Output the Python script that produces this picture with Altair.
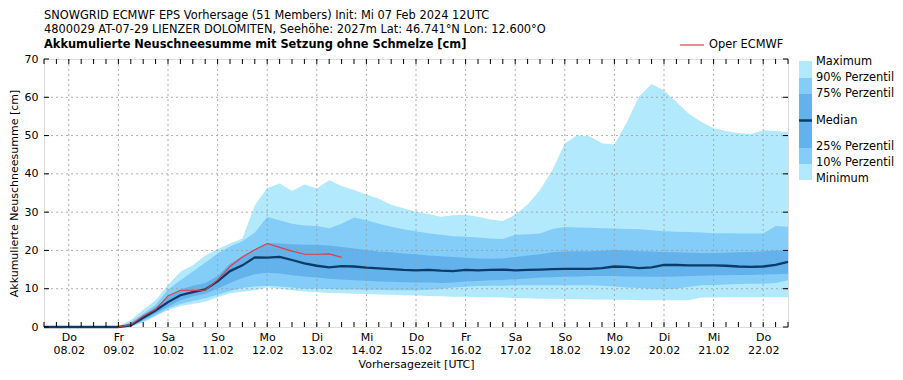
import altair as alt
import pandas as pd

# ---------------- data ----------------
hours = list(range(0, 361, 6))

ens_max = [0, 0, 0, 0, 0, 0,
           0.2, 1.8, 4.5, 7.0, 11.0, 14.4, 16.1, 18.7, 20.4, 21.8, 23.1, 31.8, 36.3, 37.5,
           35.5, 37.2, 36.2, 38.3, 36.8, 35.8, 34.6, 33.5, 31.9, 31.0, 30.1, 29.5, 28.8, 29.2,
           29.3, 28.8, 28.1, 27.7, 29.3, 32.0, 35.8, 41.0, 47.9, 50.1, 49.8, 48.0, 47.7, 53.5,
           60.3, 63.5, 61.8, 58.8, 55.7, 53.6, 51.9, 51.2, 50.6, 50.4, 51.4, 51.2, 50.9]
ens_p90 = [0, 0, 0, 0, 0, 0,
           0.1, 1.3, 3.5, 5.8, 9.8, 12.2, 14.5, 16.8, 19.2, 21.0, 22.4, 24.7, 28.7, 27.9,
           27.0, 26.5, 26.4, 25.8, 27.0, 28.6, 27.9, 27.0, 26.2, 25.5, 25.0, 24.5, 24.1, 23.7,
           23.6, 23.4, 23.1, 23.0, 24.1, 24.2, 24.4, 25.6, 26.1, 26.0, 25.9, 25.8, 25.7, 25.6,
           25.5, 25.3, 25.0, 24.9, 24.8, 24.7, 24.5, 24.5, 24.4, 24.4, 24.4, 26.4, 26.2]
ens_p75 = [0, 0, 0, 0, 0, 0,
           0.1, 1.0, 3.0, 5.2, 7.8, 9.8, 10.8, 11.5, 13.3, 16.5, 18.5, 20.3, 22.0, 21.8,
           21.6, 21.5, 21.5, 21.3, 20.9, 20.5, 20.1, 19.7, 19.5, 19.2, 19.0, 18.7, 18.5, 18.3,
           18.1, 17.9, 17.8, 17.9, 18.3, 18.7, 19.0, 19.5, 19.7, 19.8, 19.8, 19.9, 20.1, 20.0,
           19.8, 19.7, 19.6, 19.5, 19.4, 19.3, 19.3, 19.4, 19.5, 19.6, 19.8, 20.0, 20.0]
ens_median = [0, 0, 0, 0, 0, 0,
              0.0, 0.4, 2.4, 4.3, 6.5, 8.3, 9.1, 9.8, 11.9, 14.6, 16.1, 18.2, 18.1, 18.3,
              17.5, 16.6, 16.0, 15.6, 15.9, 15.8, 15.5, 15.3, 15.1, 14.9, 14.8, 14.9, 14.7, 14.6,
              14.9, 14.8, 14.9, 15.0, 14.8, 14.9, 15.0, 15.1, 15.2, 15.2, 15.2, 15.4, 15.8, 15.7,
              15.4, 15.6, 16.2, 16.2, 16.1, 16.1, 16.1, 16.0, 15.8, 15.7, 15.8, 16.2, 17.0]
ens_p25 = [0, 0, 0, 0, 0, 0,
           0.0, 0.2, 1.8, 3.5, 5.3, 7.0, 8.0, 8.7, 10.0, 11.5, 12.8, 13.8, 14.2, 14.0,
           13.5, 13.2, 12.9, 12.6, 12.4, 12.2, 12.1, 11.9, 11.8, 11.7, 11.6, 11.6, 11.5, 11.6,
           11.9, 12.0, 12.2, 12.3, 12.5, 12.7, 12.9, 13.0, 13.1, 13.2, 13.3, 13.3, 13.3, 13.2,
           13.2, 13.1, 13.1, 13.2, 13.3, 13.4, 13.5, 13.5, 13.6, 13.6, 13.7, 13.8, 13.9]
ens_p10 = [0, 0, 0, 0, 0, 0,
           0.0, 0.1, 1.5, 3.0, 4.8, 6.0, 6.8, 7.5, 8.4, 9.4, 10.2, 10.6, 10.8, 10.6,
           10.3, 10.0, 10.0, 9.9, 9.8, 9.8, 9.7, 9.7, 9.6, 9.6, 9.6, 9.7, 9.9, 10.3,
           10.5, 10.7, 10.8, 10.8, 10.9, 10.9, 10.9, 10.9, 10.9, 10.9, 10.9, 10.8, 10.6, 10.3,
           10.2, 10.0, 9.9, 10.0, 10.5, 10.9, 11.0, 11.1, 11.2, 11.3, 11.3, 11.5, 12.2]
ens_min = [0, 0, 0, 0, 0, 0,
           0.0, 0.0, 1.2, 2.8, 4.4, 5.5, 6.0, 6.6, 7.8, 8.8, 9.2, 9.6, 10.3, 10.0,
           9.6, 9.3, 9.1, 8.9, 8.8, 8.7, 8.6, 8.5, 8.4, 8.3, 8.2, 8.1, 8.0, 7.9,
           7.9, 7.8, 7.8, 7.7, 7.6, 7.5, 7.4, 7.4, 7.3, 7.3, 7.2, 7.2, 7.1, 7.1,
           7.0, 7.0, 7.0, 7.0, 7.0, 7.7, 7.7, 7.8, 7.8, 7.8, 7.8, 7.8, 7.8]

oper_hours = [36, 42, 48, 54, 60, 66, 72, 78, 84, 90, 96, 102, 108, 114, 120, 126, 132, 138, 144]
oper_vals = [0.0, 0.6, 2.9, 4.6, 8.1, 9.6, 9.6, 9.6, 12.3, 15.8, 18.3, 20.2, 21.8, 20.8,
             19.8, 19.0, 19.0, 19.1, 18.2]

day_ticks = [12, 36, 60, 84, 108, 132, 156, 180, 204, 228, 252, 276, 300, 324, 348]
day_names = ["Do", "Fr", "Sa", "So", "Mo", "Di", "Mi", "Do", "Fr", "Sa", "So", "Mo", "Di", "Mi", "Do"]
day_dates = ["08.02", "09.02", "10.02", "11.02", "12.02", "13.02", "14.02", "15.02",
             "16.02", "17.02", "18.02", "19.02", "20.02", "21.02", "22.02"]
minor_ticks = list(range(0, 361, 6))
y_ticks = [0, 10, 20, 30, 40, 50, 60, 70]
y_grid = [10, 20, 30, 40, 50, 60]

title_lines = [
    "SNOWGRID ECMWF EPS Vorhersage (51 Members) Init: Mi 07 Feb 2024 12UTC",
    "4800029 AT-07-29 LIENZER DOLOMITEN, Seehöhe: 2027m Lat: 46.741°N Lon: 12.600°O",
    "Akkumulierte Neuschneesumme mit Setzung ohne Schmelze [cm]",
]
legend_labels = ["Maximum", "90% Perzentil", "75% Perzentil", "Median",
                 "25% Perzentil", "10% Perzentil", "Minimum"]

# ---------------- styling ----------------
W, H = 744, 268
C_LIGHT = "#b3e9fd"
C_MID = "#84cdf8"
C_DARK = "#64b2ec"
C_MED = "#0b3b69"
C_OPER = "#d8404a"
GRID = "#9a9a9a"
FONT = "DejaVu Sans"
TFS = 11.4

df = pd.DataFrame({"h": hours, "mn": ens_min, "p10": ens_p10, "p25": ens_p25,
                   "med": ens_median, "p75": ens_p75, "p90": ens_p90, "mx": ens_max})
oper_df = pd.DataFrame({"h": oper_hours, "v": oper_vals})

names_js = "[" + ",".join("'%s'" % n for n in day_names) + "]"
dates_js = "[" + ",".join("'%s'" % d for d in day_dates) + "]"
label_expr = "[%s[round((datum.value-12)/24)], %s[round((datum.value-12)/24)]]" % (names_js, dates_js)

xs = alt.Scale(domain=[0, 360], nice=False, zero=False)
ys = alt.Scale(domain=[0, 70], nice=False)
xaxis = alt.Axis(values=day_ticks, labelExpr=label_expr, title="Vorhersagezeit [UTC]",
                 grid=False, ticks=False, domain=False, labelPadding=4, titlePadding=3,
                 labelFontSize=11, titleFontSize=11, titleFontWeight="normal",
                 labelColor="black", titleColor="black", labelLineHeight=13,
                 labelFont=FONT, titleFont=FONT)
yaxis = alt.Axis(values=y_ticks, title="Akkumulierte Neuschneesumme [cm]", grid=False,
                 ticks=False, domain=False, labelPadding=6, titlePadding=5,
                 labelFontSize=11, titleFontSize=11, titleFontWeight="normal",
                 labelColor="black", titleColor="black", labelFont=FONT, titleFont=FONT)

X = alt.X("h:Q", scale=xs, axis=xaxis)

base = alt.Chart(df)
band_outer = base.mark_area(color=C_LIGHT, opacity=1).encode(
    x=X, y=alt.Y("mn:Q", scale=ys, axis=yaxis), y2="mx:Q")
band_mid = base.mark_area(color=C_MID, opacity=1).encode(
    x=X, y=alt.Y("p10:Q", scale=ys, axis=yaxis), y2="p90:Q")
band_inner = base.mark_area(color=C_DARK, opacity=1).encode(
    x=X, y=alt.Y("p25:Q", scale=ys, axis=yaxis), y2="p75:Q")

xgrid = alt.Chart(pd.DataFrame({"h": day_ticks})).mark_rule(
    color=GRID, strokeDash=[2, 3], strokeWidth=0.8).encode(x=X)
ygrid = alt.Chart(pd.DataFrame({"v": y_grid})).mark_rule(
    color=GRID, strokeDash=[2, 3], strokeWidth=0.8).encode(
    y=alt.Y("v:Q", scale=ys, axis=yaxis))

median_line = base.mark_line(color=C_MED, strokeWidth=2.3).encode(
    x=X, y=alt.Y("med:Q", scale=ys, axis=yaxis))
oper_line = alt.Chart(oper_df).mark_line(color=C_OPER, strokeWidth=1.2).encode(
    x=X, y=alt.Y("v:Q", scale=ys, axis=yaxis))

tick_df = pd.DataFrame({"h": minor_ticks})
xt_bottom = alt.Chart(tick_df).mark_rule(color="black", strokeWidth=1).encode(
    x=X, y=alt.value(H), y2=alt.value(H - 5))
xt_top = alt.Chart(tick_df).mark_rule(color="black", strokeWidth=1).encode(
    x=X, y=alt.value(0), y2=alt.value(5))
ytick_df = pd.DataFrame({"v": y_ticks})
yt_left = alt.Chart(ytick_df).mark_rule(color="black", strokeWidth=1).encode(
    y=alt.Y("v:Q", scale=ys, axis=yaxis), x=alt.value(0), x2=alt.value(5))
yt_right = alt.Chart(ytick_df).mark_rule(color="black", strokeWidth=1).encode(
    y=alt.Y("v:Q", scale=ys, axis=yaxis), x=alt.value(W - 5), x2=alt.value(W))

one = alt.Data(values=[{}])


def txt(s, x, y, bold=False, size=TFS):
    return alt.Chart(one).mark_text(
        align="left", baseline="middle", fontSize=size, font=FONT, color="black",
        fontWeight="bold" if bold else "normal").encode(
        x=alt.value(x), y=alt.value(y), text=alt.value(s))


def rect(y0, y1, color):
    return alt.Chart(one).mark_rect(color=color).encode(
        x=alt.value(755), x2=alt.value(768), y=alt.value(y0), y2=alt.value(y1))


header = [txt(title_lines[0], 0, -43), txt(title_lines[1], 0, -29),
          txt(title_lines[2], 0, -14, bold=True)]

oper_leg = [
    alt.Chart(one).mark_rule(color=C_OPER, strokeWidth=1.2).encode(
        x=alt.value(636), x2=alt.value(660), y=alt.value(-14)),
    txt("Oper ECMWF", 665, -14),
]

swatch = [rect(2, 19, C_LIGHT), rect(19, 35, C_MID), rect(35, 89, C_DARK),
          rect(89, 105, C_MID), rect(105, 121, C_LIGHT),
          alt.Chart(one).mark_rule(color=C_MED, strokeWidth=2.5).encode(
              x=alt.value(755), x2=alt.value(768), y=alt.value(61.5))]
leg_y = [3, 19, 35, 62, 88, 104, 120]
leg_text = [txt(lbl, 772, yy) for lbl, yy in zip(legend_labels, leg_y)]

chart = alt.layer(
    band_outer, band_mid, band_inner, xgrid, ygrid, median_line, oper_line,
    xt_bottom, xt_top, yt_left, yt_right, *header, *oper_leg, *swatch, *leg_text
).properties(
    width=W, height=H, padding={"left": 0, "top": 2, "right": 0, "bottom": 4}
).configure_view(
    stroke="black", strokeWidth=1
).configure(font=FONT)

chart.save("out.html", embed_options={"renderer": "svg", "actions": False})
